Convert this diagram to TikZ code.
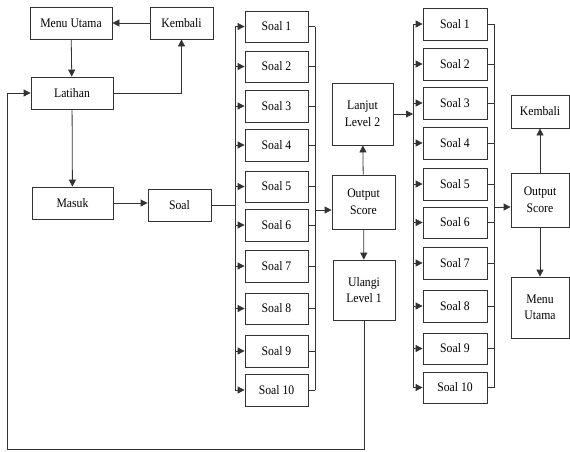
\documentclass[tikz,border=0pt]{standalone}
\usepackage{fontspec}
\setmainfont{Liberation Serif}[FakeStretch=0.9]
\usetikzlibrary{arrows.meta}
\begin{document}
\begin{tikzpicture}[x=1pt,y=-1pt,
  box/.style={draw=black!80,line width=0.8pt,rectangle,inner sep=0pt,align=center,
    font=\fontsize{13}{16.5}\selectfont},
  ln/.style={draw=black!80,line width=0.8pt},
  arr/.style={ln,-{Triangle[length=7pt,width=7pt]}}]
\useasboundingbox (0,0) rectangle (570,451);
% left part
\node[box,minimum width=82pt,minimum height=32pt] (mu1) at (71,23) {Menu Utama};
\node[box,minimum width=63pt,minimum height=32pt] (kb1) at (181.5,23) {Kembali};
\node[box,minimum width=82pt,minimum height=32pt] (lat) at (72,93) {Latihan};
\node[box,minimum width=81pt,minimum height=32pt] (mas) at (72.5,203) {Masuk};
\node[box,minimum width=63pt,minimum height=32pt] (soal) at (179.5,205) {Soal};
% first column
\foreach \n/\a/\b in {1/11/42,2/51/82,3/90/122,4/129/161,5/171/202,6/209/241,7/250/282,8/293/324,9/335/367,10/374/406}{
  \node[box,minimum width=63pt,minimum height={(\b-\a)*1pt}] (a\n) at (276.5,{(\a+\b)/2}) {Soal \n};
}
\node[box,minimum width=61pt,minimum height=62pt] (lan) at (362.5,114) {Lanjut\\Level 2};
\node[box,minimum width=63pt,minimum height=54pt] (out1) at (363.5,202) {Output\\Score};
\node[box,minimum width=62pt,minimum height=60pt] (ula) at (364,290) {Ulangi\\Level 1};
% second column
\foreach \n/\a/\b in {1/8/40,2/48/80,3/87/119,4/127/159,5/168/200,6/207/238,7/247/279,8/290/322,9/333/364,10/372/403}{
  \node[box,minimum width=64pt,minimum height={(\b-\a)*1pt}] (b\n) at (455,{(\a+\b)/2}) {Soal \n};
}
\node[box,minimum width=58pt,minimum height=33pt] (kb2) at (540,111.5) {Kembali};
\node[box,minimum width=58pt,minimum height=54pt] (out2) at (540,200) {Output\\Score};
\node[box,minimum width=58pt,minimum height=61pt] (mu2) at (540,307.5) {Menu\\Utama};
% bus coordinates
\coordinate (L1) at (235,205);
\coordinate (R1) at (315,210);
\coordinate (L2) at (413,114);
\coordinate (R2) at (494,207);
\coordinate (loopB) at (7,449);
% left part connectors
\draw[arr] (kb1) -- (mu1);
\draw[arr] (mu1) -- (lat);
\draw[arr] (lat) -- (mas);
\draw[arr] (mas) -- (soal.west |- mas.east);
\draw[arr] (lat.east) -| (kb1.south);
\draw[ln] (soal.east) -- (L1);
% first bus
\draw[ln] (a1.west -| L1) -- (a10.west -| L1);
\draw[ln] (a1.east -| R1) -- (a10.east -| R1);
\foreach \n in {1,...,10}{
  \draw[arr] (a\n.west -| L1) -- (a\n.west);
  \draw[ln] (a\n.east) -- (a\n.east -| R1);
}
\draw[arr] (R1) -- (R1 -| out1.west);
\draw[arr] (out1) -- (lan);
\draw[arr] (out1) -- (ula);
\draw[arr] (ula.south) |- (loopB) |- (lat.west);
% second bus
\draw[arr] (lan.east |- L2) -- (L2);
\draw[ln] (b1.west -| L2) -- (b10.west -| L2);
\draw[ln] (b1.east -| R2) -- (b10.east -| R2);
\foreach \n in {1,...,10}{
  \draw[arr] (b\n.west -| L2) -- (b\n.west);
  \draw[ln] (b\n.east) -- (b\n.east -| R2);
}
\draw[arr] (R2) -- (R2 -| out2.west);
\draw[arr] (out2) -- (kb2);
\draw[arr] (out2) -- (mu2);
\end{tikzpicture}
\end{document}
